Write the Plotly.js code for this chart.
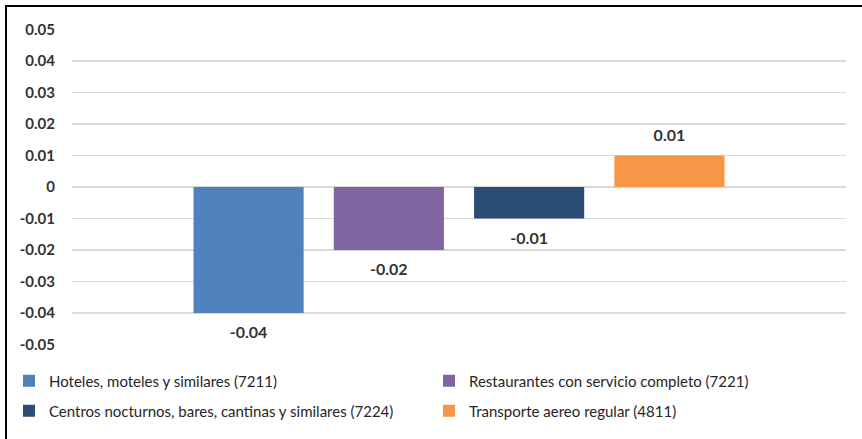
<!DOCTYPE html>
<html><head><meta charset="utf-8">
<script src="https://cdn.plot.ly/plotly-3.0.1.min.js"></script>
<style>
html,body{margin:0;padding:0;background:#fff;overflow:hidden;}
#chart{width:862px;height:439px;}
#frame{position:absolute;left:5px;top:5px;width:870px;height:450px;border:2px solid #000;box-sizing:border-box;pointer-events:none;}
</style>
</head><body>
<div id="chart"></div><div id="frame"></div>
<script>
const category = ['Total'];
const seriesNames = [
  'Hoteles, moteles y similares (7211)',
  'Restaurantes con servicio completo (7221)',
  'Centros nocturnos, bares, cantinas y similares (7224)',
  'Transporte aereo regular (4811)'
];
const seriesValues = [-0.04, -0.02, -0.01, 0.01];
const seriesColors = ['#4F81BD', '#8064A2', '#2C4D75', '#F79646'];
const tickValues = [0.05, 0.04, 0.03, 0.02, 0.01, 0, -0.01, -0.02, -0.03, -0.04, -0.05];
const tickLabels = ['0.05', '0.04', '0.03', '0.02', '0.01', '0', '-0.01', '-0.02', '-0.03', '-0.04', '-0.05'];

const FONT = 'Lato, "Liberation Sans", Arial, sans-serif';
const legendIds = ['legend', 'legend2', 'legend3', 'legend4'];
// legend slot positions in container fractions (2 columns x 2 rows)
const legendX = [9 / 862, 429 / 862, 9 / 862, 429 / 862];
const legendY = [1 - 381 / 439, 1 - 381 / 439, 1 - 411 / 439, 1 - 411 / 439];

const traces = [];
seriesNames.forEach((name, i) => {
  traces.push({
    type: 'bar', name: name, x: category, y: [seriesValues[i]],
    marker: {color: seriesColors[i]}, legend: legendIds[i],
    hoverinfo: 'skip'
  });
});
seriesNames.forEach((name, i) => {
  const v = seriesValues[i];
  traces.push({
    type: 'scatter', mode: 'markers+text', name: name + ' label', showlegend: false,
    x: category, y: [v], text: [v.toFixed(2)],
    textposition: v < 0 ? 'bottom center' : 'top center',
    textfont: {family: FONT, size: 16, color: '#333333', weight: 'bold'},
    marker: {size: v < 0 ? 20 : 15, opacity: 0}, orientation: 'v', hoverinfo: 'skip', cliponaxis: false
  });
});

const layout = {
  width: 862, height: 439,
  margin: {l: 72, r: 16, t: 29, b: 94, pad: 0},
  paper_bgcolor: '#ffffff', plot_bgcolor: '#ffffff',
  barmode: 'group', bargap: 0.275, bargroupgap: 0.215,
  scattermode: 'group', scattergap: 0.275,
  showlegend: true,
  xaxis: {type: 'category', range: [-0.5, 0.5], showticklabels: false, showgrid: false,
          zeroline: false, showline: false, ticks: ''},
  yaxis: {range: [-0.0502, 0.0502], tickvals: tickValues, ticktext: tickLabels,
          showgrid: true, gridcolor: '#D9D9D9', gridwidth: 1.3,
          zeroline: false, showline: false, ticks: '', ticklabelstandoff: 16,
          tickfont: {family: FONT, size: 15, color: '#333333', weight: 'bold'}}
};
legendIds.forEach((id, i) => {
  layout[id] = {
    orientation: 'h', xref: 'container', yref: 'container',
    x: legendX[i], y: legendY[i], xanchor: 'left', yanchor: 'middle',
    font: {family: FONT, size: 15, color: '#262626'},
    bgcolor: 'rgba(0,0,0,0)'
  };
});

Plotly.newPlot('chart', traces, layout, {displayModeBar: false, staticPlot: true});
</script>
</body></html>
